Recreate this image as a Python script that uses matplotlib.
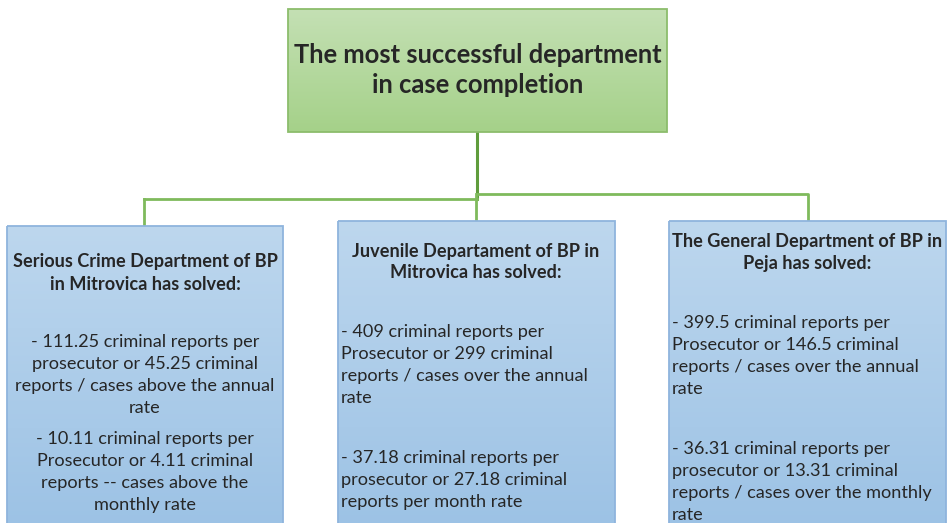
import numpy as np
import matplotlib.pyplot as plt
from matplotlib.patches import Rectangle

# ------------------------------------------------------------------
# Content
# ------------------------------------------------------------------

title_lines = ["The most successful department", "in case completion"]

left_header = ["Serious Crime Department of BP", "in Mitrovica has solved:"]
left_body_1 = ["- 111.25 criminal reports per", "prosecutor or 45.25 criminal",
               "reports / cases above the annual", "rate"]
left_body_2 = ["- 10.11 criminal reports per", "Prosecutor or 4.11 criminal",
               "reports -- cases above the", "monthly rate"]

mid_header = ["Juvenile Departament of BP in", "Mitrovica has solved:"]
mid_body_1 = ["- 409 criminal reports per", "Prosecutor or 299 criminal",
              "reports / cases over the annual", "rate"]
mid_body_2 = ["- 37.18 criminal reports per", "prosecutor or 27.18 criminal",
              "reports per month rate"]

right_header = ["The General Department of BP in", "Peja has solved:"]
right_body_1 = ["- 399.5 criminal reports per", "Prosecutor or 146.5 criminal",
                "reports / cases over the annual", "rate"]
right_body_2 = ["- 36.31 criminal reports per", "prosecutor or 13.31 criminal",
                "reports / cases over the monthly", "rate"]

FONT = "Lato"
TXT = "#262626"

fig = plt.figure(figsize=(9.48, 5.23), dpi=100)
ax = fig.add_axes([0, 0, 1, 1])
ax.set_xlim(0, 948)
ax.set_ylim(523, 0)
ax.axis("off")


def gradient_box(x0, y0, x1, y1, c_top, c_bot, edge):
    top = np.array(plt.matplotlib.colors.to_rgb(c_top))
    bot = np.array(plt.matplotlib.colors.to_rgb(c_bot))
    t = np.linspace(0, 1, 200)[:, None]
    img = (top * (1 - t) + bot * t)[:, None, :]
    ax.imshow(img, extent=(x0, x1, y1, y0), aspect="auto", zorder=1,
              interpolation="bilinear")
    ax.add_patch(Rectangle((x0, y0), x1 - x0, y1 - y0, fill=False,
                           edgecolor=edge, lw=1.3, zorder=2))


def lines(x, y0, step, rows, ha="left", bold=False, size=13.1):
    for i, s in enumerate(rows):
        ax.text(x, y0 + i * step, s, ha=ha, va="center", color=TXT,
                family=FONT, fontsize=size,
                fontweight="bold" if bold else "normal", zorder=3)


# connectors
green = "#7fba5c"
ax.plot([477, 477], [132, 199], color="#5f9c3c", lw=2.2, zorder=0)
ax.plot([144, 477], [199, 199], color=green, lw=2, zorder=0)
ax.plot([144, 144], [199, 226], color=green, lw=2, zorder=0)
ax.plot([477, 808, 808], [194, 194, 222], color=green, lw=2, zorder=0)
ax.plot([476, 476], [194, 222], color=green, lw=2, zorder=0)

# top box
gradient_box(288, 9, 667, 132, "#c4e0b4", "#a5d189", "#8cbd6c")
lines(477.5, 55, 30, title_lines, ha="center", bold=True, size=18.4)

# department boxes
gradient_box(7, 226, 283, 530, "#bdd7ee", "#9cc2e5", "#8fb4dd")
gradient_box(338, 221, 615, 530, "#bdd7ee", "#9cc2e5", "#8fb4dd")
gradient_box(669, 221, 946, 530, "#bdd7ee", "#9cc2e5", "#8fb4dd")

step = 22
lines(145, 262, step, left_header, ha="center", bold=True)
lines(145, 342, step, left_body_1, ha="center")
lines(145, 439, step, left_body_2, ha="center")

lines(476, 251, step, mid_header, ha="center", bold=True)
lines(341, 332, step, mid_body_1)
lines(341, 458, step, mid_body_2)

lines(807, 242, step, right_header, ha="center", bold=True)
lines(672, 323, step, right_body_1)
lines(672, 449, step, right_body_2)

fig.savefig("out.png", dpi=100)
